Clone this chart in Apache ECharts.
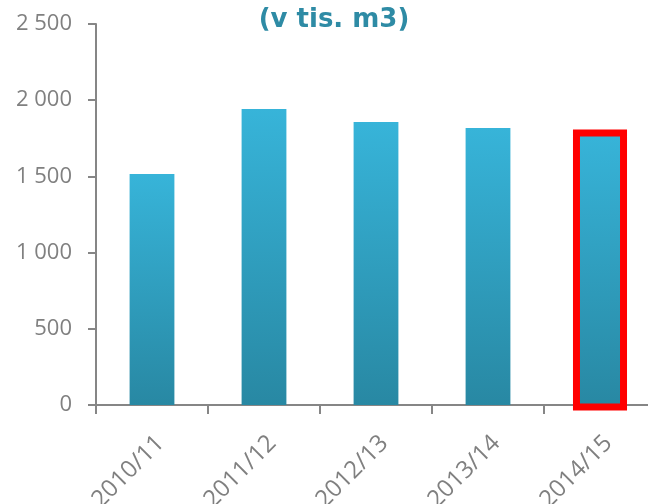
<!DOCTYPE html>
<html>
<head>
<meta charset="utf-8">
<script src="https://cdn.jsdelivr.net/npm/echarts@6/dist/echarts.min.js"></script>
<style>html,body{margin:0;padding:0;background:#fff;overflow:hidden}#c{width:648px;height:504px}</style>
</head>
<body>
<div id="c"></div>
<script>
const categories = ['2010/11', '2011/12', '2012/13', '2013/14', '2014/15'];
const values = [1515, 1942, 1857, 1818, 1785];
const highlightIndex = 4;
const titleText = '(v tis. m3)';

const chart = echarts.init(document.getElementById('c'), null, {renderer: 'canvas'});
const grad = new echarts.graphic.LinearGradient(0, 0, 0, 1, [
  {offset: 0, color: '#37B4D9'},
  {offset: 1, color: '#2888A3'}
]);
const gray = '#808080';
chart.setOption({
  animation: false,
  title: {
    text: titleText, left: 329, top: 2, textAlign: 'center',
    textStyle: {fontFamily: 'DejaVu Sans', fontWeight: 'bold', fontSize: 26, color: '#2E8BA5'}
  },
  grid: {left: 96, width: 560, top: 24, height: 381, containLabel: false, outerBoundsMode: 'none'},
  xAxis: {
    type: 'category', data: categories,
    axisLine: {lineStyle: {color: '#868686', width: 2}},
    axisTick: {show: true, length: 9, lineStyle: {color: '#868686', width: 2}},
    axisLabel: {rotate: 45, color: gray, fontFamily: 'Open Sans', fontSize: 24, margin: 26, verticalAlign: 'top'},
    splitLine: {show: false}
  },
  yAxis: {
    type: 'value', min: 0, max: 2500, interval: 500,
    axisLine: {show: true, lineStyle: {color: '#868686', width: 2}},
    axisTick: {show: true, length: 8, lineStyle: {color: '#868686', width: 2}},
    axisLabel: {
      color: gray, fontFamily: 'Open Sans', fontSize: 22, margin: 24,
      formatter: v => String(v).replace(/\B(?=(\d{3})+(?!\d))/g, ' ')
    },
    splitLine: {show: false}
  },
  series: [{
    type: 'bar', barWidth: '40%', z: 1,
    data: values,
    itemStyle: {color: grad}
  }, {
    type: 'custom', z: 5,
    data: [[highlightIndex, values[highlightIndex]]],
    renderItem: function (params, api) {
      const top = api.coord([api.value(0), api.value(1)]);
      const base = api.coord([api.value(0), 0]);
      const w = api.size([1, 0])[0] * 0.42;
      return {
        type: 'rect',
        shape: {x: top[0] - w / 2, y: top[1], width: w, height: base[1] - top[1] + 2},
        style: {fill: 'none', stroke: '#FF0000', lineWidth: 7}
      };
    }
  }]
});
</script>
</body>
</html>
